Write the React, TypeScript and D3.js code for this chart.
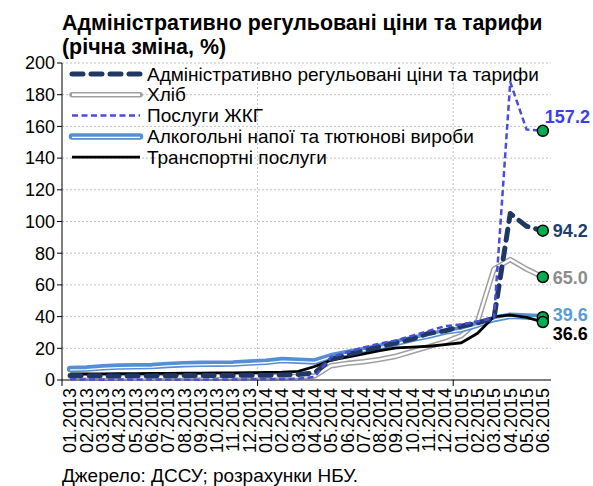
import React from "react";
import * as d3 from "d3";

const months = [
  "01.2013", "02.2013", "03.2013", "04.2013", "05.2013", "06.2013",
  "07.2013", "08.2013", "09.2013", "10.2013", "11.2013", "12.2013",
  "01.2014", "02.2014", "03.2014", "04.2014", "05.2014", "06.2014",
  "07.2014", "08.2014", "09.2014", "10.2014", "11.2014", "12.2014",
  "01.2015", "02.2015", "03.2015", "04.2015", "05.2015", "06.2015",
];

const adminPrices = [
  2.8, 2.7, 2.6, 2.6, 2.5, 2.6, 2.7, 2.8, 2.8, 2.9, 2.9, 3.0,
  3.0, 3.2, 3.5, 4.5, 13, 16, 18.5, 21, 23.5, 26, 29.5, 31,
  34, 36, 39, 105, 97, 94.2,
];
const bread = [
  2.5, 2.3, 2.0, 1.8, 1.5, 1.8, 2.0, 2.2, 2.5, 2.8, 2.5, 2.3,
  2.5, 2.3, 2.2, 2.5, 9, 10.5, 11.5, 13, 15, 18, 21, 24,
  28, 37, 70, 76, 70, 65.0,
];
const utilities = [
  0.5, 0.3, 0.2, 0.3, 0.2, 0.3, 0.2, 0.1, 0.2, 0.3, 0.3, 0.4,
  0.5, 0.5, 0.8, 2, 14.5, 17.5, 20.5, 23, 25, 28, 31, 34,
  35, 37, 39, 188, 158, 157.2,
];
const alcohol = [
  7, 7.2, 8, 8.5, 8.6, 8.8, 9.5, 10, 10.2, 10.3, 10.4, 11,
  11.5, 12.6, 12.2, 11.7, 15, 17, 19, 21, 23.5, 26, 28, 30.5,
  32, 35, 38.5, 40.5, 40, 39.6,
];
const transport = [
  3.8, 3.8, 3.9, 4.0, 4.0, 4.1, 4.2, 4.3, 4.4, 4.5, 4.5, 4.6,
  4.8, 5.0, 5.5, 8.5, 12.5, 14.5, 16.5, 18.5, 20.3, 20.8, 21.3, 22.3,
  23.5, 29.5, 40, 41, 39.5, 36.6,
];

const yTicks = [0, 20, 40, 60, 80, 100, 120, 140, 160, 180, 200];
const legendNames = [
  "Адміністративно регульовані ціни та тарифи",
  "Хліб",
  "Послуги ЖКГ",
  "Алкогольні напої та тютюнові вироби",
  "Транспортні послуги",
];

const W = 593;
const H = 486;
const margin = { top: 63, right: 42, bottom: 106, left: 62 };
const font = "Liberation Sans, Arial, sans-serif";

type Series = {
  name: string;
  values: number[];
  label: string;
  labelColor: string;
  labelDx: number;
  labelDy: number;
};

export default function App() {
  const x = d3
    .scaleBand<string>()
    .domain(months)
    .range([margin.left, W - margin.right]);
  const y = d3
    .scaleLinear()
    .domain([0, 200])
    .range([H - margin.bottom, margin.top]);
  const cx = (m: string) => (x(m) ?? 0) + x.bandwidth() / 2;

  const line = d3
    .line<number>()
    .x((_, i) => cx(months[i]))
    .y((d) => y(d));

  const series: Series[] = [
    { name: legendNames[0], values: adminPrices, label: "94.2", labelColor: "#1f3f6e", labelDx: 10, labelDy: 0 },
    { name: legendNames[1], values: bread, label: "65.0", labelColor: "#8c8c8c", labelDx: 10, labelDy: 1 },
    { name: legendNames[2], values: utilities, label: "157.2", labelColor: "#3d3df0", labelDx: 2, labelDy: -14 },
    { name: legendNames[3], values: alcohol, label: "39.6", labelColor: "#5b9bd5", labelDx: 10, labelDy: -3 },
    { name: legendNames[4], values: transport, label: "36.6", labelColor: "#000000", labelDx: 10, labelDy: 12 },
  ];

  const x0 = margin.left;
  const x1 = W - margin.right;
  const yBottom = H - margin.bottom;
  const yearEdges = [months[12], months[24]].map((m) => x(m) ?? 0);
  const last = months[months.length - 1];

  const drawSeries = (i: number, d: string | null) => {
    switch (i) {
      case 0:
        return (
          <path d={d ?? ""} fill="none" stroke="#1f3864" strokeWidth={5}
            strokeDasharray="11 8" strokeLinecap="round" strokeLinejoin="round" />
        );
      case 1:
        return (
          <g>
            <path d={d ?? ""} fill="none" stroke="#a0a0a0" strokeWidth={5.5} strokeLinejoin="round" strokeLinecap="round" />
            <path d={d ?? ""} fill="none" stroke="#ffffff" strokeWidth={2.4} strokeLinejoin="round" />
          </g>
        );
      case 2:
        return (
          <path d={d ?? ""} fill="none" stroke="#4b4bdc" strokeWidth={2.5}
            strokeDasharray="6 3.5" strokeLinejoin="round" />
        );
      case 3:
        return (
          <g>
            <path d={d ?? ""} fill="none" stroke="#558ed5" strokeWidth={6.5} strokeLinejoin="round" strokeLinecap="round" />
            <path d={d ?? ""} fill="none" stroke="#ffffff" strokeWidth={1.3} strokeLinejoin="round" transform="translate(0,1)" />
          </g>
        );
      default:
        return (
          <path d={d ?? ""} fill="none" stroke="#000000" strokeWidth={2.8} strokeLinejoin="round" />
        );
    }
  };

  const drawOrder = [1, 3, 4, 0, 2];

  return (
    <svg width={W} height={H} style={{ position: "absolute", left: 0, top: 0, background: "#fff" }}
      fontFamily={font}>
      <text x={62} y={30} fontSize={21.4} fontWeight="bold">
        Адміністративно регульовані ціни та тарифи
      </text>
      <text x={62} y={54} fontSize={21.4} fontWeight="bold">
        (річна зміна, %)
      </text>

      {/* grid */}
      {yTicks.filter((t) => t > 0).map((t) => (
        <line key={t} x1={x0} x2={x1} y1={y(t)} y2={y(t)} stroke="#bfbfbf"
          strokeWidth={1} strokeDasharray="2 2" />
      ))}
      {yearEdges.map((ex) => (
        <line key={ex} x1={ex} x2={ex} y1={margin.top} y2={yBottom} stroke="#bfbfbf"
          strokeWidth={1} strokeDasharray="2 2" />
      ))}

      {/* y axis */}
      <line x1={x0} x2={x0} y1={margin.top} y2={yBottom} stroke="#000" />
      {yTicks.map((t) => (
        <g key={t}>
          <line x1={x0 - 5} x2={x0} y1={y(t)} y2={y(t)} stroke="#000" />
          <text x={x0 - 7} y={y(t)} dy="0.35em" textAnchor="end" fontSize={18}>
            {t}
          </text>
        </g>
      ))}

      {/* x axis */}
      <line x1={x0} x2={x1} y1={yBottom} y2={yBottom} stroke="#000" />
      {[x0, ...yearEdges].map((ex) => (
        <line key={ex} x1={ex} x2={ex} y1={yBottom} y2={yBottom + 6} stroke="#000" />
      ))}
      {months.map((m) => (
        <text key={m} transform={`translate(${cx(m)},${yBottom + 8}) rotate(-90)`}
          dy="0.35em" textAnchor="end" fontSize={18}>
          {m}
        </text>
      ))}

      {/* lines */}
      {drawOrder.map((i) => (
        <g key={i}>{drawSeries(i, line(series[i].values))}</g>
      ))}

      {/* end markers */}
      {drawOrder.map((i) => {
        const v = series[i].values[series[i].values.length - 1];
        return (
          <circle key={i} cx={cx(last)} cy={y(v)} r={5.5} fill="#00b050" stroke="#000" strokeWidth={1.5} />
        );
      })}
      {series.map((s) => {
        const v = s.values[s.values.length - 1];
        return (
          <text key={s.label} x={cx(last) + s.labelDx} y={y(v) + s.labelDy} dy="0.35em"
            fontSize={18} fontWeight="bold" fill={s.labelColor}>
            {s.label}
          </text>
        );
      })}

      {/* legend */}
      {series.map((s, i) => {
        const ly = 74 + i * 20.8;
        return (
          <g key={s.name} transform={`translate(0,${ly})`}>
            {drawSeries(i, `M72,0L140,0`)}
            <text x={147} y={0} dy="0.35em" fontSize={19}>
              {s.name}
            </text>
          </g>
        );
      })}

      <text x={62} y={482} fontSize={19}>
        Джерело: ДССУ; розрахунки НБУ.
      </text>
    </svg>
  );
}
